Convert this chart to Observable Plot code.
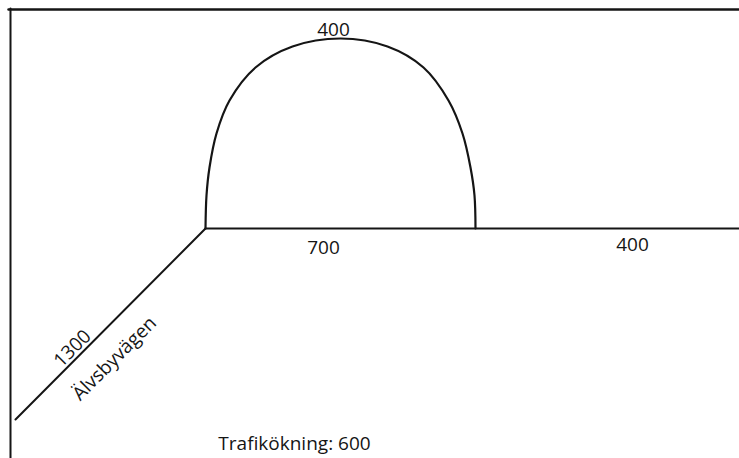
<!DOCTYPE html>
<html>
<head>
<meta charset="utf-8">
<script src="https://cdn.jsdelivr.net/npm/d3@7"></script>
<script src="https://cdn.jsdelivr.net/npm/@observablehq/plot@0.6"></script>
<style>
  html, body { margin: 0; padding: 0; background: #fff; }
  #chart svg { display: block; }
</style>
</head>
<body>
<div id="chart"></div>
<script>
// Schematic road diagram (coordinates in diagram units)
const frameTop = [{x: 8, y: 9}, {x: 739, y: 9}];
const frameLeft = [{x: 10, y: 8}, {x: 10, y: 458}];
const mainRoad = [{x: 205, y: 228}, {x: 739, y: 228}];
const sideRoad = [{x: 15, y: 419}, {x: 205, y: 228}];
const arch = [
  {x: 205, y: 228}, {x: 206, y: 195}, {x: 209, y: 167}, {x: 216, y: 133},
  {x: 229, y: 100}, {x: 255, y: 67}, {x: 292, y: 46}, {x: 340, y: 38},
  {x: 387, y: 46}, {x: 423, y: 67}, {x: 448, y: 100}, {x: 462, y: 133},
  {x: 470, y: 167}, {x: 474, y: 195}, {x: 475, y: 228}
];
const labels = [
  {x: 333, y: 29, text: "400", rotate: 0},
  {x: 323, y: 247, text: "700", rotate: 0},
  {x: 632, y: 244, text: "400", rotate: 0},
  {x: 72, y: 348, text: "1300", rotate: -45},
  {x: 114, y: 358, text: "Älvsbyvägen", rotate: -45}
];
const caption = [{x: 294, y: 443, text: "Trafikökning: 600"}];

const ink = "#151515";
const chart = Plot.plot({
  width: 739,
  height: 458,
  margin: 0,
  x: {domain: [0, 739], range: [0, 739], axis: null},
  y: {domain: [0, 458], range: [0, 458], axis: null},
  style: {fontFamily: "'Open Sans', sans-serif", background: "#fff"},
  marks: [
    Plot.line(frameTop, {x: "x", y: "y", stroke: ink, strokeWidth: 2.5}),
    Plot.line(frameLeft, {x: "x", y: "y", stroke: ink, strokeWidth: 2}),
    Plot.line(mainRoad, {x: "x", y: "y", stroke: ink, strokeWidth: 2}),
    Plot.line(sideRoad, {x: "x", y: "y", stroke: ink, strokeWidth: 2}),
    Plot.line(arch, {x: "x", y: "y", stroke: ink, strokeWidth: 2.2, curve: "catmull-rom"}),
    Plot.text(labels, {x: "x", y: "y", text: "text", rotate: "rotate", fill: ink, fontSize: 19, fontWeight: 500}),
    Plot.text(caption, {x: "x", y: "y", text: "text", fill: ink, fontSize: 19, fontWeight: 500})
  ]
});
document.getElementById("chart").appendChild(chart);
</script>
</body>
</html>
